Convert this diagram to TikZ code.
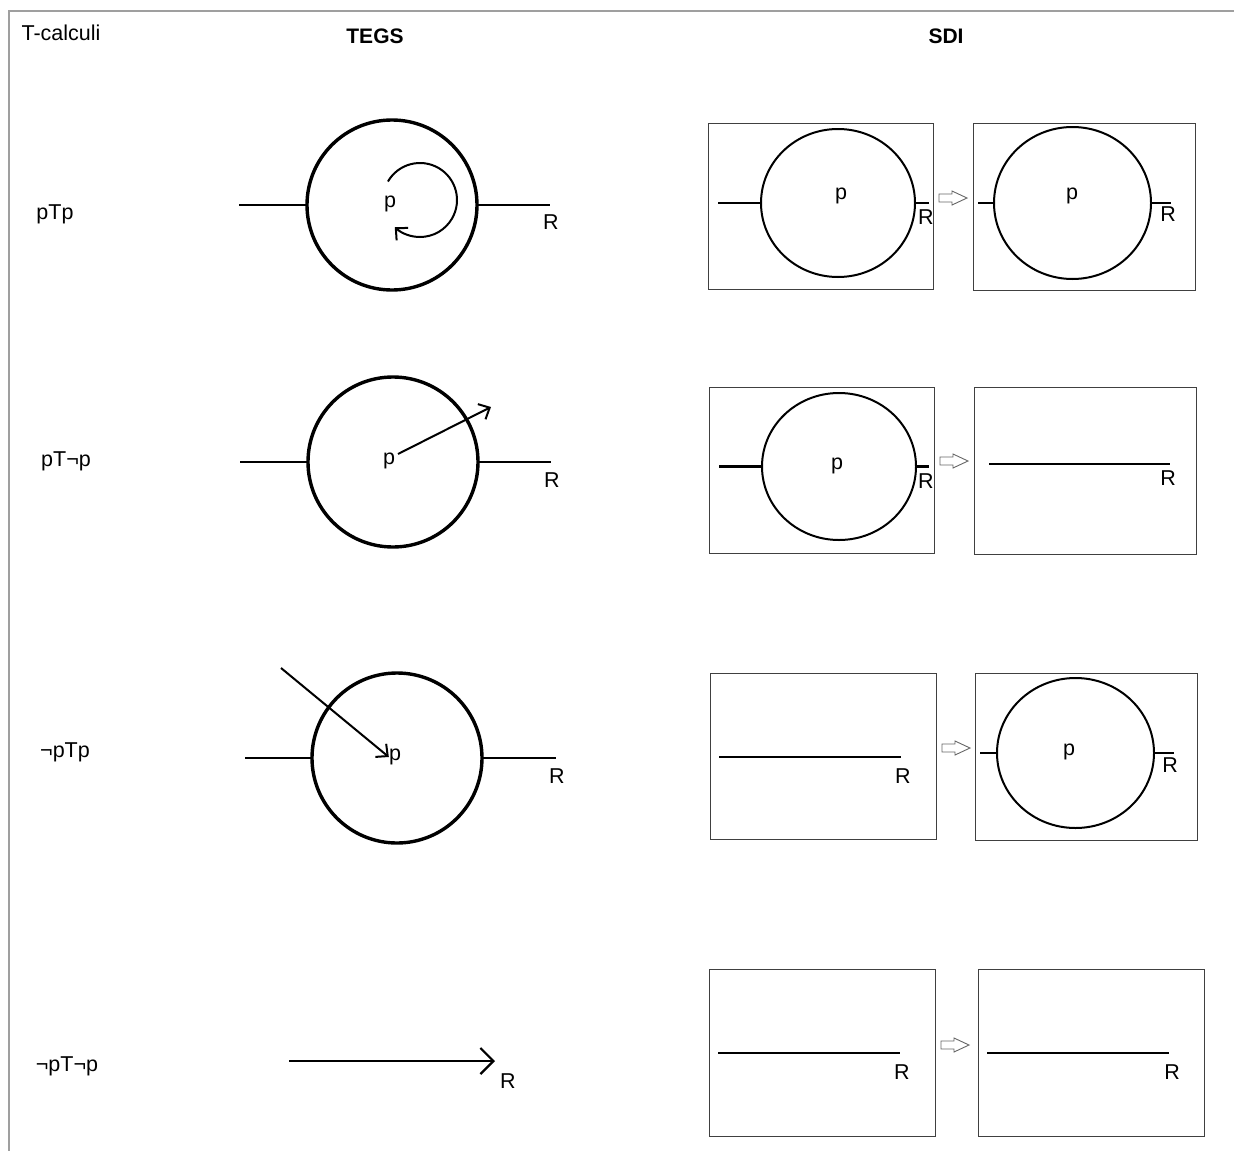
\documentclass[tikz,border=0pt]{standalone}
\usepackage{fontspec}
\setmainfont{Liberation Sans}
\usetikzlibrary{arrows.meta,shapes.geometric}
\begin{document}
\begin{tikzpicture}[x=1pt,y=-1pt,
  lbl/.style={font=\fontsize{21.5}{25}\selectfont, inner sep=0pt},
  ttl/.style={font=\bfseries\fontsize{21}{25}\selectfont, inner sep=0pt},
  tcirc/.style={circle, draw, line width=3.4pt, minimum size=170pt, inner sep=0pt, outer sep=0pt},
  scirc/.style={ellipse, draw, line width=2pt, inner sep=0pt, outer sep=0pt},
  wire/.style={line width=2.2pt},
  sbox/.style={draw=black!75, line width=1pt, inner sep=0pt, outer sep=0pt},
  barb/.style={line width=2pt, -{Straight Barb[length=9pt, width=17pt, line width=2pt]}},
  bigbarb/.style={line width=2.2pt, -{Straight Barb[length=13pt, width=26pt, line width=2.2pt]}},
  harrow/.pic={\draw[black!60, line width=0.9pt] (0,-4) -- (13,-4) -- (13,-7) -- (28,0) -- (13,7) -- (13,4) -- (0,4) -- cycle;}
]
\useasboundingbox (0,0) rectangle (1234,1151);
% frame
\draw[gray!75, line width=1.3pt] (1234,11) -- (9,11) -- (9,1151);
% titles
\node[lbl] (tcalc) at (61,33) {T-calculi};
\node[ttl] (tegs) at (375,36) {TEGS};
\node[ttl] (sdi) at (946,36) {SDI};
% row labels
\node[lbl] (l1) at (55,214) {pTp};
\node[lbl] (l2) at (66,461) {pT¬p};
\node[lbl] (l3) at (65,752) {¬pTp};
\node[lbl] (l4) at (67,1066) {¬pT¬p};

% ---------- TEGS ----------
% row 1
\node[tcirc] (c1) at (392,205) {};
\draw[wire] (c1.west) -- +(-68,0);
\draw[wire] (c1.east) -- +(73,0);
\node[lbl] (r1) at (551,222) {R};
\node[lbl] (p1) at (390,204) {p};
\coordinate (ca) at (420,200);
\draw[barb] ([shift={(-150:37)}]ca) arc[start angle=-150, end angle=133, radius=37];
% row 2
\node[tcirc] (c2) at (393,462) {};
\draw[wire] (c2.west) -- +(-68,0);
\draw[wire] (c2.east) -- +(73,0);
\node[lbl] (r2) at (552,480) {R};
\node[lbl] (p2) at (389,461) {p};
\coordinate (a2s) at (398,454);
\coordinate (a2e) at (491,407);
\draw[barb] (a2s) -- (a2e);
% row 3
\node[tcirc] (c3) at (397,758) {};
\draw[wire] (c3.west) -- +(-67,0);
\draw[wire] (c3.east) -- +(74,0);
\node[lbl] (r3) at (557,776) {R};
\node[lbl] (p3) at (395,757) {p};
\coordinate (a3s) at (281,668);
\draw[barb] (a3s) -- (p3.west);
% row 4
\coordinate (a4s) at (289,1061);
\coordinate (a4e) at (495,1061);
\draw[bigbarb] (a4s) -- (a4e);
\node[lbl] (r4) at (508,1081) {R};

% ---------- SDI ----------
% row 1
\node[sbox, minimum width=225pt, minimum height=166pt] (b1a) at (820.5,206) {};
\node[sbox, minimum width=222pt, minimum height=167pt] (b1b) at (1084,206.5) {};
\node[scirc, minimum width=154pt, minimum height=148pt] (s1a) at (838,203) {};
\draw[wire] (s1a.west) -- +(-43,0);
\draw[wire] (s1a.east) -- +(14,0);
\node[lbl] (sr1a) at (926,217) {R};
\node[lbl] (sp1a) at (841,196) {p};
\pic at (939,198) {harrow};
\node[scirc, minimum width=157pt, minimum height=152pt] (s1b) at (1072.5,203) {};
\draw[wire] (s1b.west) -- +(-16,0);
\draw[wire] (s1b.east) -- +(20,0);
\node[lbl] (sr1b) at (1168,214) {R};
\node[lbl] (sp1b) at (1072,196) {p};
% row 2
\node[sbox, minimum width=225pt, minimum height=166pt] (b2a) at (821.5,470) {};
\node[sbox, minimum width=222pt, minimum height=167pt] (b2b) at (1085,470.5) {};
\node[scirc, minimum width=154pt, minimum height=147pt] (s2a) at (839,466.5) {};
\draw[wire] (s2a.west) -- +(-43,0);
\draw[wire] (s2a.east) -- +(13,0);
\node[lbl] (sr2a) at (926,481) {R};
\node[lbl] (sp2a) at (837,466) {p};
\pic at (940,461) {harrow};
\coordinate (w2s) at (989,464);
\coordinate (w2e) at (1170,464);
\draw[wire] (w2s) -- (w2e);
\node[lbl] (sr2b) at (1168,478) {R};
% row 3
\node[sbox, minimum width=226pt, minimum height=166pt] (b3a) at (823,756) {};
\node[sbox, minimum width=222pt, minimum height=167pt] (b3b) at (1086,756.5) {};
\coordinate (w3s) at (719,757);
\coordinate (w3e) at (901,757);
\draw[wire] (w3s) -- (w3e);
\node[lbl] (sr3a) at (903,776) {R};
\pic at (942,748) {harrow};
\node[scirc, minimum width=157pt, minimum height=150pt] (s3b) at (1075.5,753) {};
\draw[wire] (s3b.west) -- +(-17,0);
\draw[wire] (s3b.east) -- +(20,0);
\node[lbl] (sr3b) at (1170,765) {R};
\node[lbl] (sp3b) at (1069,752) {p};
% row 4
\node[sbox, minimum width=226pt, minimum height=167pt] (b4a) at (822,1052.5) {};
\node[sbox, minimum width=226pt, minimum height=167pt] (b4b) at (1091,1052.5) {};
\coordinate (w4s) at (718,1053);
\coordinate (w4e) at (900,1053);
\draw[wire] (w4s) -- (w4e);
\node[lbl] (sr4a) at (902,1072) {R};
\pic at (941,1045) {harrow};
\coordinate (w4bs) at (987,1053);
\coordinate (w4be) at (1169,1053);
\draw[wire] (w4bs) -- (w4be);
\node[lbl] (sr4b) at (1172,1072) {R};
\end{tikzpicture}
\end{document}
